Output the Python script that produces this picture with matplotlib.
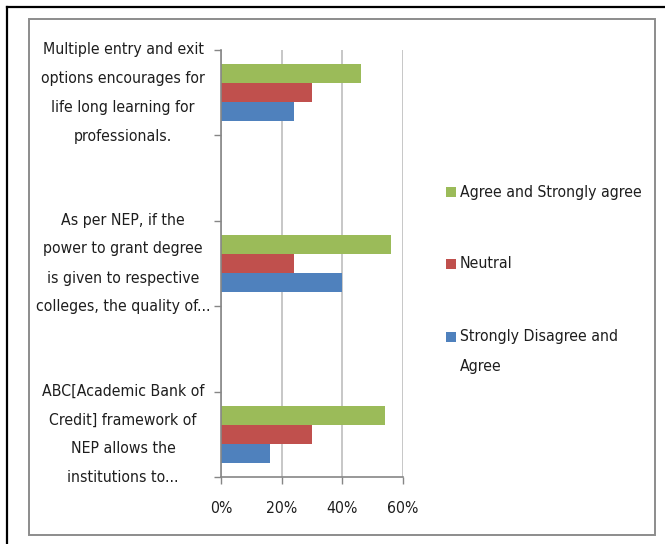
import matplotlib.pyplot as plt
from matplotlib import font_manager as fm
from matplotlib.patches import Rectangle
from matplotlib.lines import Line2D
from matplotlib.transforms import blended_transform_factory
from matplotlib.ticker import PercentFormatter

# survey statements (wrapped as in the source workbook)
statements = [
    "Multiple entry and exit\noptions encourages for\nlife long learning for\nprofessionals.",
    "As per NEP, if the\npower to grant degree\nis given to respective\ncolleges, the quality of...",
    "ABC[Academic Bank of\nCredit] framework of\nNEP allows the\ninstitutions to...",
]
series_names = ["Agree and Strongly agree", "Neutral", "Strongly Disagree and\nAgree"]
agree = [0.46, 0.56, 0.54]
neutral = [0.30, 0.24, 0.30]
disagree = [0.24, 0.40, 0.16]
colors = ["#9BBB59", "#C0504D", "#4F81BD"]
x_ticks = [0, 0.2, 0.4, 0.6]


def pick_narrow_font():
    """Prefer a narrow/condensed sans face, else fall back to Liberation Sans."""
    names = {f.name for f in fm.fontManager.ttflist}
    if "Liberation Sans Narrow" in names:
        return "Liberation Sans Narrow", "normal"
    for fam in ("Noto Sans", "DejaVu Sans", "Open Sans", "Roboto"):
        for f in fm.fontManager.ttflist:
            if f.name == fam and f.style == "normal" and f.stretch in ("condensed", "semi-condensed"):
                return fam, f.stretch
    return "Liberation Sans", "normal"


family, stretch = pick_narrow_font()
plt.rcParams["font.family"] = [family, "DejaVu Sans"]
plt.rcParams["font.stretch"] = stretch

W, H = 665, 544
fig = plt.figure(figsize=(W / 100, H / 100), dpi=100)

# size the text so the first label line is ~160 px wide
probe = fig.text(0, 0, "Multiple entry and exit", fontsize=10)
renderer = fig.canvas.get_renderer()
fs = 10 * 160 / probe.get_window_extent(renderer).width
probe.remove()
line_px = 29  # distance between wrapped lines


def fx(px):
    return px / W


def fy(py):
    return 1 - py / H


# outer black border (top and left edges) and grey chart frame
fig.add_artist(Line2D([fx(7), 1], [fy(7), fy(7)], color="black", lw=1.6))
fig.add_artist(Line2D([fx(7), fx(7)], [fy(7), 0], color="black", lw=1.6))
fig.add_artist(Rectangle((fx(29), fy(535)), fx(655) - fx(29), fy(19) - fy(535),
                         transform=fig.transFigure, fill=False,
                         edgecolor="#8c8c8c", lw=1.4))

ax = fig.add_axes([fx(221), fy(477), fx(403) - fx(221), fy(50) - fy(477)])

# every other row is left blank, so statements sit on rows 0, 2, 4
rows = [2 * i for i in range(len(statements))]
bar_h = 0.222
for k, (vals, c) in enumerate(zip([agree, neutral, disagree], colors)):
    ypos = [r + (k - 1) * bar_h for r in rows]
    ax.barh(ypos, vals, height=bar_h, color=c, edgecolor="none")

n_rows = 2 * len(statements) - 1
ax.set_ylim(n_rows - 0.5, -0.5)
ax.set_xlim(0, 0.6)
ax.set_yticks([r - 0.5 for r in range(n_rows + 1)])
ax.set_yticklabels([])
ax.set_xticks(x_ticks)
ax.xaxis.set_major_formatter(PercentFormatter(1.0, decimals=0))
ax.tick_params(axis="y", length=5, color="#868686", width=1)
ax.tick_params(axis="x", length=5, color="#868686", width=1, pad=12,
               labelsize=fs, labelcolor="#1e1e1e")

ax.grid(axis="x", color="#BEBEBE", lw=1.2)
ax.set_axisbelow(True)
for side in ["top", "right"]:
    ax.spines[side].set_visible(False)
for side in ["left", "bottom"]:
    ax.spines[side].set_color("#868686")
    ax.spines[side].set_linewidth(1.2)

# category labels, one text per wrapped line, centred left of the axis
row_px = (477 - 50) / n_rows
for r, label in zip(rows, statements):
    lines = label.split("\n")
    centre = 50 + (r + 0.5) * row_px
    for i, line in enumerate(lines):
        y = centre + (i - (len(lines) - 1) / 2) * line_px
        fig.text(fx(123), fy(y), line, ha="center", va="center",
                 fontsize=fs, color="#1e1e1e")

# legend drawn as squares and text on the right
legend_y = [192, 264, 337]
for name, c, y in zip(series_names, colors, legend_y):
    fig.add_artist(Rectangle((fx(446), fy(y + 5)), fx(10), fy(0) - fy(10),
                             transform=fig.transFigure, facecolor=c,
                             edgecolor="none"))
    for i, line in enumerate(name.split("\n")):
        fig.text(fx(460), fy(y + i * line_px), line, ha="left", va="center",
                 fontsize=fs, color="#1e1e1e")

fig.savefig("out.png", dpi=100)
